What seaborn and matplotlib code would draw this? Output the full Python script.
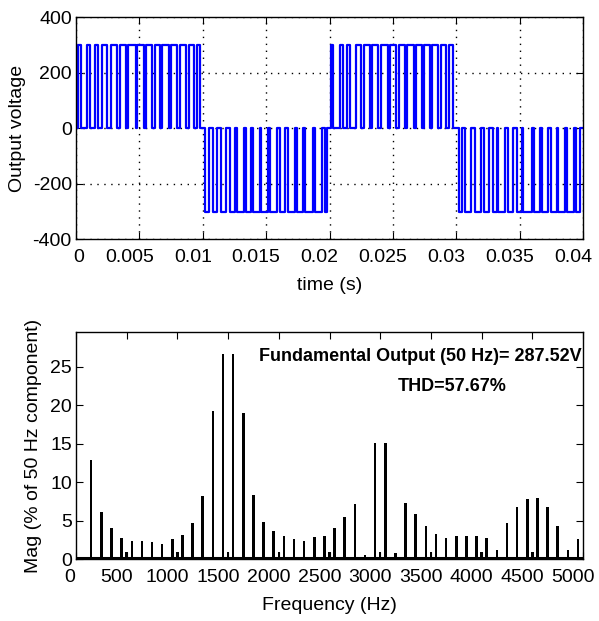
import numpy as np
import pandas as pd
import matplotlib
matplotlib.use("Agg")
import matplotlib.pyplot as plt
import matplotlib.transforms as mtransforms
import seaborn as sns

# ---- data ----
dc_level = 300  # V, pulse height

# pulse intervals (ms) for each half cycle: (start, end)
pos_half_1 = [(0.16, 0.42), (0.89, 1.10), (1.47, 1.74), (2.08, 2.47), (2.79, 3.26),
              (3.44, 3.92), (4.10, 4.71), (4.84, 5.36), (5.55, 6.02), (6.20, 6.62),
              (6.81, 7.33), (7.52, 7.99), (8.18, 8.65), (8.91, 9.28), (9.54, 9.81)]
neg_half_1 = [(10.15, 10.49), (10.80, 11.15), (11.41, 11.86), (12.12, 12.56), (12.72, 13.22),
              (13.43, 13.83), (13.96, 14.48), (14.62, 15.14), (15.27, 15.85), (16.06, 16.51),
              (16.72, 17.24), (17.43, 17.90), (18.08, 18.69), (18.82, 19.40), (19.61, 19.82)]
pos_half_2 = [(20.10, 20.30), (20.82, 21.04), (21.40, 21.62), (22.06, 22.50), (22.70, 23.18),
              (23.36, 23.84), (24.08, 24.62), (24.75, 25.28), (25.46, 25.93), (26.12, 26.63),
              (26.79, 27.31), (27.42, 27.89), (28.10, 28.56), (28.81, 29.22), (29.40, 29.72)]
neg_half_2 = [(30.18, 30.44), (30.70, 31.18), (31.44, 31.96), (32.15, 32.60), (32.86, 33.20),
              (33.33, 33.86), (34.07, 34.51), (34.78, 35.17), (35.30, 35.96), (36.14, 36.62),
              (36.75, 37.27), (37.46, 37.93), (38.06, 38.59), (38.72, 39.25), (39.43, 39.80)]

time_ticks = [0, 0.005, 0.01, 0.015, 0.02, 0.025, 0.03, 0.035, 0.04]
time_tick_labels = ['0', '0.005', '0.01', '0.015', '0.02', '0.025', '0.03', '0.035', '0.04']
volt_ticks = [-400, -200, 0, 200, 400]

# harmonic spectrum (% of fundamental)
freq_hz = [150, 250, 350, 450, 500, 550, 650, 750, 850, 950, 1000, 1050, 1150, 1250,
           1350, 1450, 1500, 1550, 1650, 1750, 1850, 1950, 2000, 2050, 2150, 2250,
           2350, 2450, 2500, 2550, 2650, 2750, 2850, 2950, 3000, 3050, 3150, 3250,
           3350, 3450, 3500, 3550, 3650, 3750, 3850, 3950, 4000, 4050, 4150, 4250,
           4350, 4450, 4500, 4550, 4650, 4750, 4850, 4950]
mag_pct = [12.9, 6.1, 4.0, 2.8, 0.9, 2.4, 2.4, 2.2, 2.0, 2.6, 0.9, 3.2, 4.7, 8.2,
           19.3, 26.7, 0.9, 26.7, 19.0, 8.35, 4.8, 3.7, 0.9, 3.0, 2.6, 2.4,
           2.85, 3.0, 0.9, 4.0, 5.45, 7.2, 0.56, 15.15, 0.9, 15.15, 0.77, 7.35,
           5.9, 4.3, 0.9, 3.25, 2.8, 3.0, 3.0, 3.0, 0.9, 2.8, 1.2, 4.7,
           6.75, 7.8, 0.9, 7.95, 6.75, 4.3, 1.2, 2.6]
freq_ticks = [0, 500, 1000, 1500, 2000, 2500, 3000, 3500, 4000, 4500, 5000]
mag_ticks = [0, 5, 10, 15, 20, 25]

fundamental_text = 'Fundamental Output (50 Hz)= 287.52V'
thd_text = 'THD=57.67%'


def build_waveform(halves):
    """Turn the pulse interval lists into a stepped voltage trace."""
    t, v = [0.0], [0.0]
    for sign, pulses in halves:
        for a, b in pulses:
            t += [a, a, b, b]
            v += [0, sign * dc_level, sign * dc_level, 0]
    t.append(40.0)
    v.append(0.0)
    return pd.DataFrame({'time': np.array(t) / 1000.0, 'voltage': v})


def nudge_xlabels(ax, first_dx, other_dx):
    """The exported figure has its x tick labels sitting a bit left of the ticks."""
    for i, lab in enumerate(ax.get_xticklabels()):
        dx = first_dx if i == 0 else other_dx
        shift = mtransforms.ScaledTranslation(dx / 100.0, 0, ax.figure.dpi_scale_trans)
        lab.set_transform(lab.get_transform() + shift)


sns.set_style('ticks', rc={'axes.edgecolor': 'black', 'xtick.color': 'black',
                           'ytick.color': 'black', 'text.color': 'black',
                           'axes.labelcolor': 'black'})
plt.rcParams['font.family'] = ['Liberation Sans', 'DejaVu Sans']
plt.rcParams['axes.unicode_minus'] = False

fig = plt.figure(figsize=(5.99, 6.21), dpi=100)
ax1 = fig.add_axes([0.1269, 0.6147, 0.8464, 0.3575])
ax2 = fig.add_axes([0.1269, 0.0994, 0.8464, 0.3655])

# ---- top: inverter output voltage ----
wave = build_waveform([(1, pos_half_1), (-1, neg_half_1), (1, pos_half_2), (-1, neg_half_2)])
sns.lineplot(data=wave, x='time', y='voltage', ax=ax1, estimator=None, sort=False,
             color='#0000ff', linewidth=1.6)
ax1.set_xlim(0, 0.04)
ax1.set_ylim(-400, 400)
ax1.set_xticks(time_ticks)
ax1.set_xticklabels(time_tick_labels)
ax1.set_yticks(volt_ticks)
ax1.grid(True, color='black', linestyle=(0, (1, 4)), linewidth=1.0)
ax1.set_xlabel('time (s)', fontsize=14, labelpad=8)
ax1.set_ylabel('Output voltage', fontsize=14, labelpad=5)

# ---- bottom: harmonic spectrum ----
sns.barplot(x=freq_hz, y=mag_pct, ax=ax2, native_scale=True, orient='x',
            color='black', width=0.5, errorbar=None, linewidth=0, saturation=1)
ax2.axhline(0.12, color='black', linewidth=2.2)  # small bins along the floor
ax2.set_xlim(0, 5000)
ax2.set_ylim(0, 29.5)
ax2.set_xticks(freq_ticks)
ax2.set_xticklabels([str(f) for f in freq_ticks])
ax2.set_yticks(mag_ticks)
ax2.set_xlabel('Frequency (Hz)', fontsize=14, labelpad=8)
ax2.set_ylabel('Mag (% of 50 Hz component)', fontsize=14, labelpad=6)
ax2.text(4990, 26.3, fundamental_text, ha='right', va='center',
         fontsize=13, fontweight='bold')
ax2.text(3713, 22.5, thd_text, ha='center', va='center',
         fontsize=13, fontweight='bold')

for ax in (ax1, ax2):
    ax.tick_params(axis='both', which='both', direction='in', top=True, right=True,
                   length=5, width=0.8, labelsize=14)
    ax.tick_params(axis='x', pad=7)
    ax.tick_params(axis='y', pad=3)
    for spine in ax.spines.values():
        spine.set_visible(True)
        spine.set_linewidth(1.0)
        spine.set_color('black')

nudge_xlabels(ax1, 3, -10)
nudge_xlabels(ax2, -6, -10)

fig.savefig('out.png', dpi=100)
